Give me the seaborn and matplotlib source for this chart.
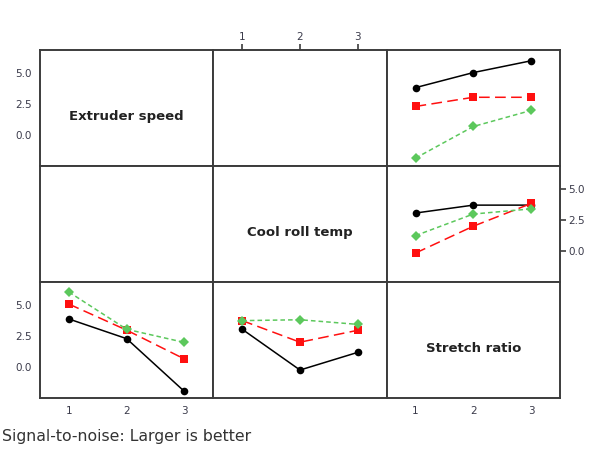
import numpy as np
import pandas as pd
import matplotlib
matplotlib.use("Agg")
import matplotlib.pyplot as plt
import seaborn as sns

# ---- data (S/N ratio interaction means) ----
levels = [1, 2, 3]
factors = ["Extruder speed", "Cool roll temp", "Stretch ratio"]

# row 1, col 3: lines = Extruder speed level, x = Stretch ratio
es_by_sr_1 = [3.80, 5.00, 5.94]
es_by_sr_2 = [2.30, 3.03, 3.03]
es_by_sr_3 = [-1.82, 0.70, 1.98]

# row 2, col 3: lines = Cool roll temp level, x = Stretch ratio
crt_by_sr_1 = [3.05, 3.68, 3.68]
crt_by_sr_2 = [-0.14, 2.00, 3.81]
crt_by_sr_3 = [1.25, 2.97, 3.38]

# row 3, col 1: lines = Stretch ratio level, x = Extruder speed
sr_by_es_1 = [3.85, 2.28, -1.93]
sr_by_es_2 = [5.04, 2.96, 0.66]
sr_by_es_3 = [6.00, 3.03, 1.98]

# row 3, col 2: lines = Stretch ratio level, x = Cool roll temp
sr_by_crt_1 = [3.03, -0.22, 1.19]
sr_by_crt_2 = [3.72, 2.00, 2.95]
sr_by_crt_3 = [3.72, 3.79, 3.42]

yticks = [0.0, 2.5, 5.0]
ytick_labels = ["0.0", "2.5", "5.0"]

def make_df(series):
    rows = []
    for lvl, vals in zip(levels, series):
        for x, v in zip(levels, vals):
            rows.append({"x": x, "y": v, "level": str(lvl)})
    return pd.DataFrame(rows)

panels = {
    (0, 2): make_df([es_by_sr_1, es_by_sr_2, es_by_sr_3]),
    (1, 2): make_df([crt_by_sr_1, crt_by_sr_2, crt_by_sr_3]),
    (2, 0): make_df([sr_by_es_1, sr_by_es_2, sr_by_es_3]),
    (2, 1): make_df([sr_by_crt_1, sr_by_crt_2, sr_by_crt_3]),
}

sns.set_theme(style="white")
plt.rcParams["font.family"] = ["DejaVu Sans"]

palette = {"1": "#000000", "2": "#ff1010", "3": "#5cc85c"}
markers = {"1": "o", "2": "s", "3": "D"}
dashes = {"1": "", "2": (7, 3.5), "3": (3, 2)}

fig = plt.figure(figsize=(5.9, 4.54), dpi=100)
left, right = 40 / 590, 560 / 590
top, bottom = 1 - 50 / 454, 1 - 398 / 454
W = (right - left) / 3
H = (top - bottom) / 3

tick_color = "#3a3a4a"
frame_color = "#3c3c3c"

for r in range(3):
    for c in range(3):
        ax = fig.add_axes([left + c * W, top - (r + 1) * H, W, H])
        ax.set_xlim(0.5, 3.5)
        ax.set_ylim(-2.45, 6.8)
        if (r, c) in panels:
            df = panels[(r, c)]
            sns.lineplot(data=df, x="x", y="y", hue="level", style="level",
                         palette=palette, markers=markers, dashes=dashes,
                         markersize=5.5, linewidth=1.1, markeredgewidth=0,
                         legend=False, ax=ax)
        if r == c:
            ax.text(0.5, 0.43, factors[r], transform=ax.transAxes,
                    ha="center", va="center", fontsize=9.5,
                    fontweight="bold", color="#222222")
        ax.set_xlabel("")
        ax.set_ylabel("")
        for s in ax.spines.values():
            s.set_color(frame_color)
            s.set_linewidth(1.4)
        ax.tick_params(axis="both", which="both", length=0,
                       labelsize=7.5, labelcolor=tick_color, color=frame_color)
        ax.set_xticks([])
        ax.set_yticks([])
        # x ticks
        if (r == 0 and c == 1) or (r == 2 and c in (0, 2)):
            ax.set_xticks(levels)
            ax.set_xticklabels([str(l) for l in levels])
            ax.tick_params(axis="x", length=4, width=1.2, direction="out", pad=2)
            if r == 0:
                ax.xaxis.tick_top()
                ax.tick_params(axis="x", length=4, width=1.2, direction="out",
                               labelsize=7.5, labelcolor=tick_color, pad=2)
        # y ticks
        if (c == 0 and r in (0, 2)) or (c == 2 and r == 1):
            ax.set_yticks(yticks)
            ax.set_yticklabels(ytick_labels)
            ax.tick_params(axis="y", length=4, width=1.2, direction="out", pad=2)
            if c == 2:
                ax.yaxis.tick_right()
                ax.tick_params(axis="y", length=4, width=1.2, direction="out",
                               labelsize=7.5, labelcolor=tick_color, pad=2)

fig.text(2 / 590, 1 - 437 / 454, "Signal-to-noise: Larger is better",
         fontsize=11.3, color="#333333", ha="left", va="center")

fig.savefig("out.png", dpi=100)
